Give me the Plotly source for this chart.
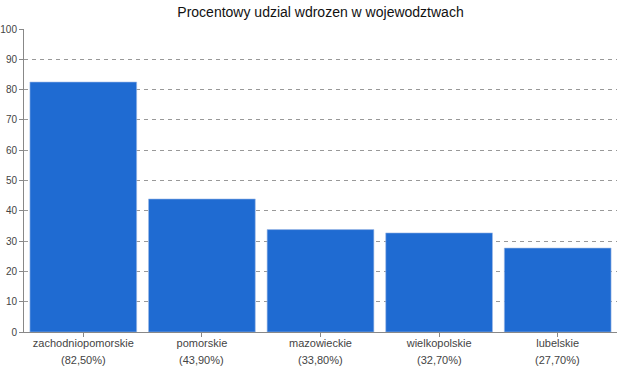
import plotly.graph_objects as go

categories = ["zachodniopomorskie", "pomorskie", "mazowieckie", "wielkopolskie", "lubelskie"]
values = [82.5, 43.9, 33.8, 32.7, 27.7]
pct_labels = ["(82,50%)", "(43,90%)", "(33,80%)", "(32,70%)", "(27,70%)"]
y_ticks = [0, 10, 20, 30, 40, 50, 60, 70, 80, 90, 100]

font_family = "Liberation Sans, Arial, sans-serif"

fig = go.Figure()
fig.add_trace(go.Bar(
    x=categories, y=values,
    marker=dict(color="#1f6bd2", line=dict(color="#9fbbe6", width=0.6)),
    width=0.9,
))

for c, p in zip(categories, pct_labels):
    fig.add_annotation(x=c, y=0, xref="x", yref="y", text=p, showarrow=False,
                       yanchor="middle", yshift=-28,
                       font=dict(family=font_family, size=11, color="#444444"))

fig.update_layout(
    width=641, height=385,
    margin=dict(l=24, r=24, t=29, b=53, autoexpand=False),
    paper_bgcolor="white", plot_bgcolor="white",
    showlegend=False,
    bargap=0.1,
    title=dict(text="Procentowy udzial wdrozen w wojewodztwach", x=0.5, xanchor="center",
               y=1 - 12/385, yanchor="middle", automargin=False,
               font=dict(family=font_family, size=14, color="#111111")),
    font=dict(family=font_family, size=11, color="#444444"),
)
fig.update_xaxes(
    automargin=False,
    showline=True, linecolor="#888888", linewidth=1,
    ticks="outside", ticklen=4, tickcolor="#888888",
    ticklabelstandoff=-3,
    showgrid=False, tickfont=dict(size=11, color="#444444"),
)
fig.update_yaxes(
    automargin=False,
    range=[0, 100], tickvals=y_ticks,
    showline=True, linecolor="#888888", linewidth=1,
    ticks="outside", ticklen=4, tickcolor="#888888",
    showgrid=True, gridcolor="#999999", griddash="4px,4px", gridwidth=1,
    zeroline=False, tickfont=dict(size=10, color="#444444"),
)

fig.write_html("out.html", config={"displayModeBar": False},
               post_script="document.body.style.margin='0';")
